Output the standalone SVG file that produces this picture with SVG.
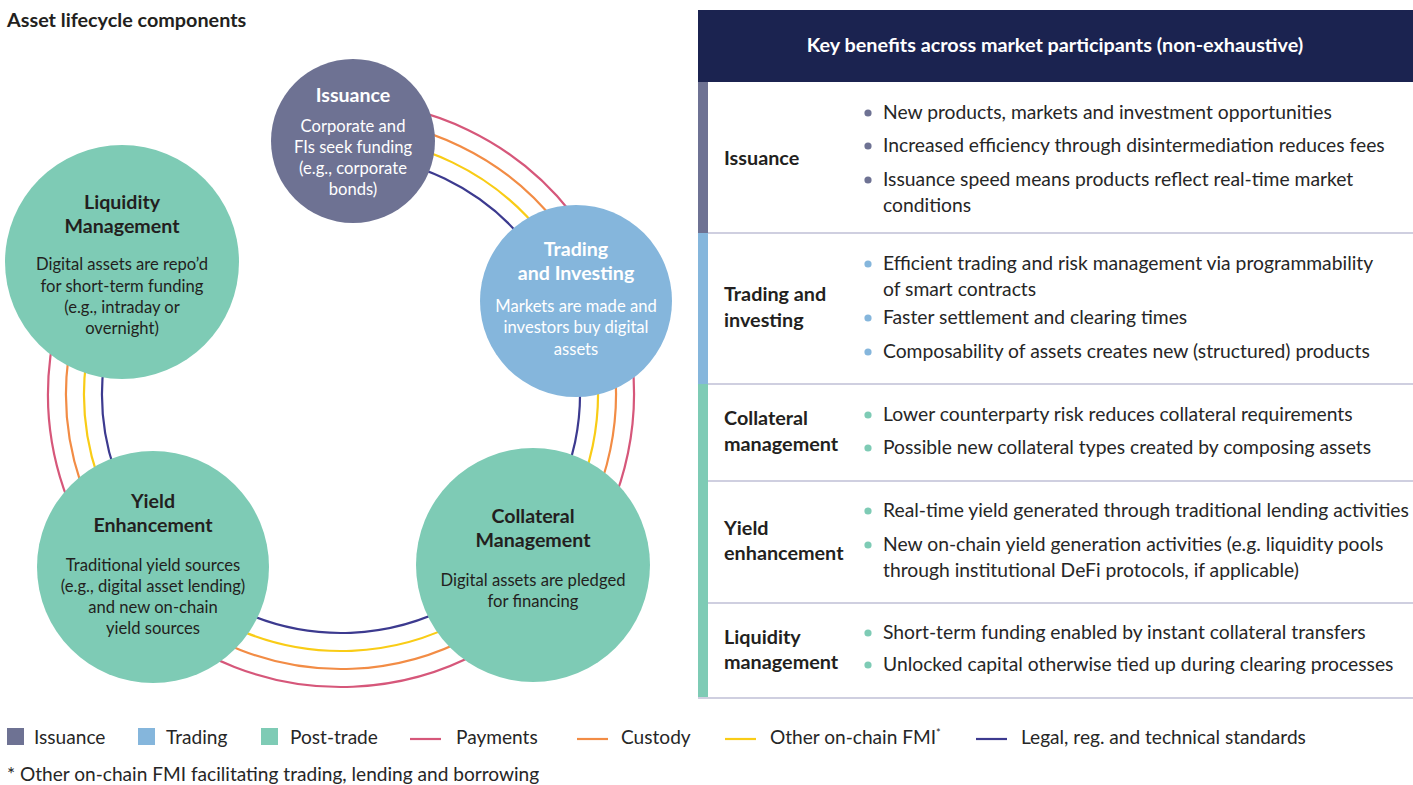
<svg xmlns="http://www.w3.org/2000/svg" width="1413" height="785" viewBox="0 0 1413 785">
<style>
text{font-family:"Lato","Open Sans","Liberation Sans",sans-serif;}
.ttl{font-size:19.8px;font-weight:700;fill:#231f20;}
.hdr{font-size:19.8px;font-weight:700;fill:#ffffff;}
.ct{font-size:19.6px;font-weight:700;text-anchor:middle;}
.cb{font-size:16.6px;text-anchor:middle;}
.w{fill:#ffffff;}
.d{fill:#231f20;}
.rl{font-size:19.8px;font-weight:700;fill:#231f20;}
.bt{font-size:19.3px;fill:#262626;}
.lg{font-size:19.1px;fill:#262626;}
.ring{fill:none;stroke-width:2.2;}
.sep{stroke:#cfcfe0;stroke-width:2;}
</style>
<rect x="0" y="0" width="1413" height="785" fill="#ffffff"/>
<text class="ttl" x="7" y="27">Asset lifecycle components</text>

<g id="connectors">
<path class="ring" stroke="#d6577a" d="M351.23,101.18 A293,293 0 1 1 89.84,243.10"/>
<path class="ring" stroke="#f28c45" d="M350.60,119.17 A275,275 0 1 1 105.27,252.37"/>
<path class="ring" stroke="#f9cc16" d="M349.97,137.15 A257,257 0 1 1 120.70,261.64"/>
<path class="ring" stroke="#3c3a8f" d="M349.34,155.14 A239,239 0 1 1 136.13,270.91"/>
</g>

<g id="node-issuance">
<circle cx="353" cy="141" r="82" fill="#6e7293"/>
<text class="ct w" x="353" y="102">Issuance</text>
<text class="cb w" x="353" y="132">Corporate and</text>
<text class="cb w" x="353" y="153">FIs seek funding</text>
<text class="cb w" x="353" y="174">(e.g., corporate</text>
<text class="cb w" x="353" y="195">bonds)</text>
</g>

<g id="node-trading">
<circle cx="576" cy="301" r="96" fill="#85b6dc"/>
<text class="ct w" x="576" y="256">Trading</text>
<text class="ct w" x="576" y="280">and Investing</text>
<text class="cb w" x="576" y="312">Markets are made and</text>
<text class="cb w" x="576" y="333">investors buy digital</text>
<text class="cb w" x="576" y="355">assets</text>
</g>

<g id="node-collateral">
<circle cx="533" cy="565" r="117" fill="#7ecbb5"/>
<text class="ct d" x="533" y="523">Collateral</text>
<text class="ct d" x="533" y="547">Management</text>
<text class="cb d" x="533" y="586">Digital assets are pledged</text>
<text class="cb d" x="533" y="607">for financing</text>
</g>

<g id="node-yield">
<circle cx="153" cy="567" r="116" fill="#7ecbb5"/>
<text class="ct d" x="153" y="508">Yield</text>
<text class="ct d" x="153" y="532">Enhancement</text>
<text class="cb d" x="153" y="571">Traditional yield sources</text>
<text class="cb d" x="153" y="592">(e.g., digital asset lending)</text>
<text class="cb d" x="153" y="613">and new on-chain</text>
<text class="cb d" x="153" y="634">yield sources</text>
</g>

<g id="node-liquidity">
<circle cx="122" cy="262" r="117" fill="#7ecbb5"/>
<text class="ct d" x="122" y="209">Liquidity</text>
<text class="ct d" x="122" y="233">Management</text>
<text class="cb d" x="122" y="270">Digital assets are repo’d</text>
<text class="cb d" x="122" y="292">for short-term funding</text>
<text class="cb d" x="122" y="313">(e.g., intraday or</text>
<text class="cb d" x="122" y="334">overnight)</text>
</g>

<g id="table">
<rect x="698" y="10" width="715" height="72" fill="#1b2350"/>
<text class="hdr" x="1055" y="52" text-anchor="middle">Key benefits across market participants (non-exhaustive)</text>
<rect x="698" y="82" width="10" height="151" fill="#6e7293"/>
<rect x="698" y="233" width="10" height="151" fill="#85b6dc"/>
<rect x="698" y="384" width="10" height="314" fill="#7ecbb5"/>
<line class="sep" x1="708" y1="233" x2="1413" y2="233"/>
<line class="sep" x1="708" y1="384" x2="1413" y2="384"/>
<line class="sep" x1="708" y1="481" x2="1413" y2="481"/>
<line class="sep" x1="708" y1="603" x2="1413" y2="603"/>
<line class="sep" x1="698" y1="698" x2="1413" y2="698"/>

<g id="row-issuance">
<text class="rl" x="724" y="165">Issuance</text>
<circle cx="868" cy="113" r="3.6" fill="#6e7293"/>
<circle cx="868" cy="146" r="3.6" fill="#6e7293"/>
<circle cx="868" cy="180" r="3.6" fill="#6e7293"/>
<text class="bt" x="883" y="119">New products, markets and investment opportunities</text>
<text class="bt" x="883" y="152">Increased efficiency through disintermediation reduces fees</text>
<text class="bt" x="883" y="186">Issuance speed means products reflect real-time market</text>
<text class="bt" x="883" y="212">conditions</text>
</g>

<g id="row-trading">
<text class="rl" x="724" y="301">Trading and</text>
<text class="rl" x="724" y="327">investing</text>
<circle cx="868" cy="264" r="3.6" fill="#85b6dc"/>
<circle cx="868" cy="318" r="3.6" fill="#85b6dc"/>
<circle cx="868" cy="352" r="3.6" fill="#85b6dc"/>
<text class="bt" x="883" y="270">Efficient trading and risk management via programmability</text>
<text class="bt" x="883" y="296">of smart contracts</text>
<text class="bt" x="883" y="324">Faster settlement and clearing times</text>
<text class="bt" x="883" y="358">Composability of assets creates new (structured) products</text>
</g>

<g id="row-collateral">
<text class="rl" x="724" y="425">Collateral</text>
<text class="rl" x="724" y="451">management</text>
<circle cx="868" cy="415" r="3.6" fill="#7ecbb5"/>
<circle cx="868" cy="448" r="3.6" fill="#7ecbb5"/>
<text class="bt" x="883" y="421">Lower counterparty risk reduces collateral requirements</text>
<text class="bt" x="883" y="454">Possible new collateral types created by composing assets</text>
</g>

<g id="row-yield">
<text class="rl" x="724" y="535">Yield</text>
<text class="rl" x="724" y="560">enhancement</text>
<circle cx="868" cy="511" r="3.6" fill="#7ecbb5"/>
<circle cx="868" cy="545" r="3.6" fill="#7ecbb5"/>
<text class="bt" x="883" y="517">Real-time yield generated through traditional lending activities</text>
<text class="bt" x="883" y="551">New on-chain yield generation activities (e.g. liquidity pools</text>
<text class="bt" x="883" y="577">through institutional DeFi protocols, if applicable)</text>
</g>

<g id="row-liquidity">
<text class="rl" x="724" y="644">Liquidity</text>
<text class="rl" x="724" y="669">management</text>
<circle cx="868" cy="633" r="3.6" fill="#7ecbb5"/>
<circle cx="868" cy="665" r="3.6" fill="#7ecbb5"/>
<text class="bt" x="883" y="639">Short-term funding enabled by instant collateral transfers</text>
<text class="bt" x="883" y="671">Unlocked capital otherwise tied up during clearing processes</text>
</g>
</g>

<g id="legend">
<rect x="7" y="728" width="17" height="17" fill="#6e7293"/>
<text class="lg" x="34" y="744">Issuance</text>
<rect x="138" y="728" width="17" height="17" fill="#85b6dc"/>
<text class="lg" x="166" y="744">Trading</text>
<rect x="261" y="728" width="17" height="17" fill="#7ecbb5"/>
<text class="lg" x="290" y="744">Post-trade</text>
<line x1="410" y1="739" x2="441" y2="739" stroke="#d6577a" stroke-width="2.2"/>
<text class="lg" x="456" y="744">Payments</text>
<line x1="577" y1="739" x2="608" y2="739" stroke="#f28c45" stroke-width="2.2"/>
<text class="lg" x="621" y="744">Custody</text>
<line x1="725" y1="739" x2="756" y2="739" stroke="#f9cc16" stroke-width="2.2"/>
<text class="lg" x="770" y="744">Other on-chain FMI<tspan font-size="11" dy="-7">*</tspan></text>
<line x1="976" y1="739" x2="1007" y2="739" stroke="#3c3a8f" stroke-width="2.2"/>
<text class="lg" x="1021" y="744">Legal, reg. and technical standards</text>
<text class="lg" x="7" y="781">* Other on-chain FMI facilitating trading, lending and borrowing</text>
</g>
</svg>
